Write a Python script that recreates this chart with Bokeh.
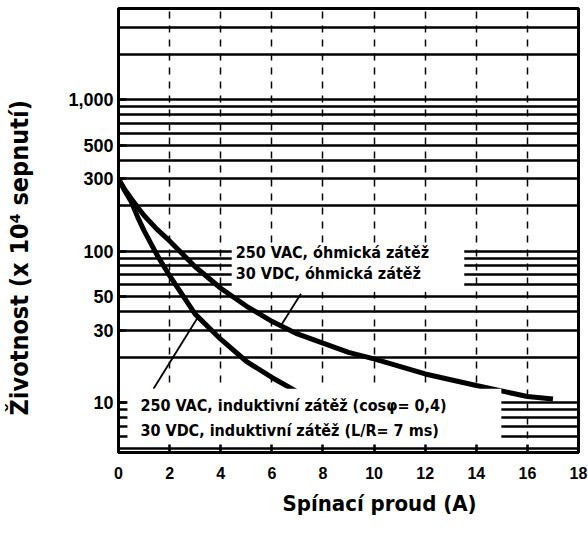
from bokeh.plotting import figure
from bokeh.models import FixedTicker, Range1d, Label, Title
from bokeh.embed import file_html
from bokeh.resources import INLINE

# Switching current (A) against electrical life (x 10^4 operations)
ohmic_current = [0, 0.25, 0.5, 0.75, 1, 1.5, 2, 3, 4, 5, 6, 7, 8, 9, 10, 12, 14, 16, 17]
ohmic_life = [300, 255, 222, 195, 172, 140, 117, 79, 57, 43.5, 34.5, 28.5, 24.8, 21.5, 19.5, 15.5, 13, 11, 10.6]

inductive_current = [0, 0.25, 0.5, 0.75, 1, 1.5, 2, 3, 4, 5, 6, 7]
inductive_life = [300, 250, 212, 168, 137, 95, 69, 38.5, 26.3, 18.8, 14.7, 11.8]

x_ticks = [0, 2, 4, 6, 8, 10, 12, 14, 16, 18]
y_ticks = [10, 30, 50, 100, 300, 500, 1000]
y_tick_labels = ["10", "30", "50", "100", "300", "500", "1,000"]
grid_values = [5, 6, 7, 8, 9, 10, 20, 30, 40, 50, 60, 70, 80, 90,
               100, 200, 300, 400, 500, 600, 700, 800, 900, 1000, 2000, 3000]
x_grid_values = [2, 4, 6, 8, 10, 12, 14, 16]

ohmic_labels = ["250 VAC, óhmická zátěž", "30 VDC, óhmická zátěž"]
inductive_labels = ["250 VAC, induktivní zátěž (cosφ= 0,4)",
                    "30 VDC, induktivní zátěž (L/R= 7 ms)"]

NARROW = "'DejaVu Sans Condensed', 'Liberation Sans Narrow', Roboto, sans-serif"

p = figure(width=588, height=533, output_backend="svg", toolbar_location=None,
           y_axis_type="log",
           x_range=Range1d(0, 18), y_range=Range1d(4.7, 4000),
           min_border_left=118, min_border_right=10,
           min_border_top=8, min_border_bottom=81)

p.background_fill_color = "white"
p.border_fill_color = "white"
p.outline_line_color = "black"
p.outline_line_width = 3

# log-paper grid
p.ygrid.ticker = FixedTicker(ticks=grid_values)
p.ygrid.grid_line_color = "black"
p.ygrid.grid_line_width = 2.5
p.xgrid.ticker = FixedTicker(ticks=x_grid_values)
p.xgrid.grid_line_color = "black"
p.xgrid.grid_line_width = 1.5
p.xgrid.grid_line_dash = "7 7"

# axes
p.xaxis.ticker = FixedTicker(ticks=x_ticks)
p.yaxis.ticker = FixedTicker(ticks=y_ticks)
p.yaxis.major_label_overrides = {v: s for v, s in zip(y_ticks, y_tick_labels)}
for ax in (p.xaxis, p.yaxis):
    ax.axis_line_width = 3
    ax.axis_line_color = "black"
    ax.major_tick_in = 8
    ax.major_tick_out = 0
    ax.major_tick_line_width = 2.5
    ax.minor_tick_line_color = None
    ax.major_label_text_font = "Liberation Sans"
    ax.major_label_text_font_style = "bold"
    ax.major_label_text_color = "black"
p.xaxis.major_label_text_font_size = "16px"
p.yaxis.major_label_text_font_size = "18px"
p.xaxis.major_label_standoff = 14
p.yaxis.major_label_standoff = 5

# blank gap between the y tick labels and the y title
p.add_layout(Title(text=" ", text_font_size="10px", standoff=18), "left")
# axis titles
p.add_layout(Title(text="Životnost (x 10⁴ sepnutí)", align="left", offset=37,
                   vertical_align="bottom",
                   text_font=NARROW, text_font_style="bold", text_font_size="25px",
                   text_color="black", standoff=2), "left")
p.add_layout(Title(text="Spínací proud (A)", align="left", offset=164,
                   text_font=NARROW, text_font_style="bold", text_font_size="22px",
                   text_color="black", standoff=14), "below")

# life curves
p.line(ohmic_current, ohmic_life, line_color="black", line_width=5)
p.line(inductive_current, inductive_life, line_color="black", line_width=5)

# leader lines from the captions to the curves
p.line([6.35, 7.14], [32.2, 52.4], line_color="black", line_width=1.8)
p.line([1.37, 3.1], [12.4, 36.6], line_color="black", line_width=1.8)

# white caption panels
p.quad(left=[4.43, 0.35], right=[13.53, 14.98], bottom=[54, 5.13], top=[110, 12.4],
       fill_color="white", line_color=None)

for txt, yv in zip(ohmic_labels, [97.7, 71]):
    p.add_layout(Label(x=4.59, y=yv, text=txt, text_font=NARROW, text_font_style="bold",
                       text_font_size="16px", text_baseline="middle", text_color="black"))
for txt, yv in zip(inductive_labels, [9.55, 6.53]):
    p.add_layout(Label(x=0.86, y=yv, text=txt, text_font=NARROW, text_font_style="bold",
                       text_font_size="16px", text_baseline="middle", text_color="black"))

open("out.html", "w").write(file_html(p, INLINE))
